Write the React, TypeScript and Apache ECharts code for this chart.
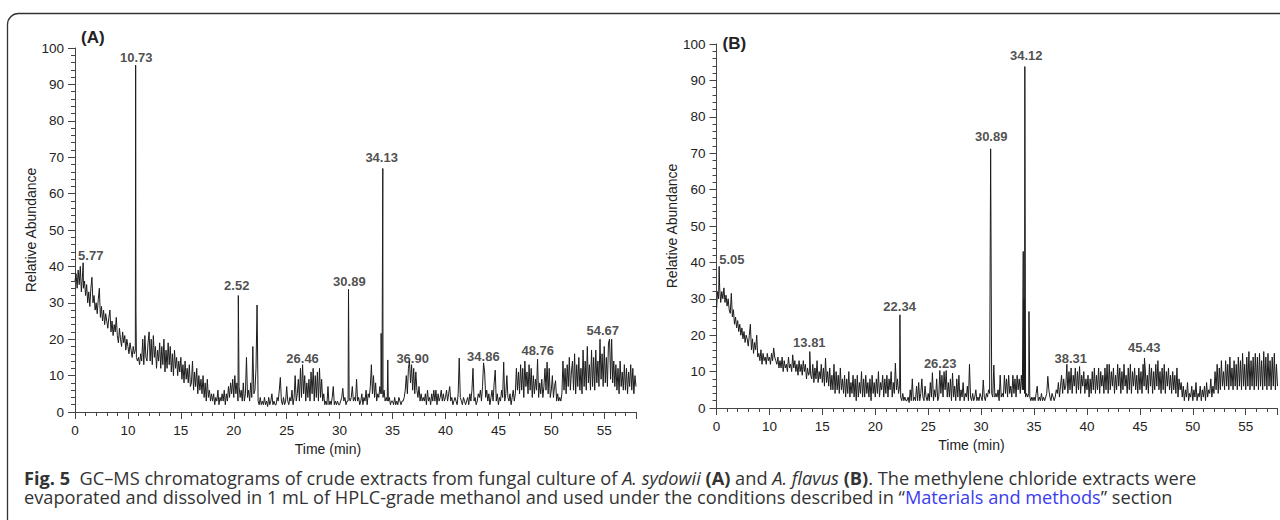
import React, { useEffect, useRef } from 'react';
import * as echarts from 'echarts';

// sampling grid of the traces (minutes)
const T0 = 5;
const DT = 0.1;

// Chart (A): relative abundance sampled every 0.1 min from 5.0 to 58.0
const traceA: number[] = [
  36, 38, 34, 39, 35, 40, 33, 37, 34, 36,
  32, 35, 30, 33, 29, 34, 37, 30, 32, 28,
  30, 27, 31, 34, 26, 29, 25, 28, 24, 27,
  25, 23, 26, 28, 22, 25, 21, 24, 22, 26,
  21, 19, 23, 20, 18, 22, 19, 21, 17, 20,
  18, 16, 19, 17, 15, 18, 16, 17, 15, 14,
  15, 13, 16, 14, 20, 13, 21, 15, 14, 19,
  22, 14, 20, 13, 21, 15, 18, 12, 17, 14,
  19, 12, 18, 13, 20, 11, 17, 12, 19, 13,
  18, 11, 16, 10, 17, 12, 15, 10, 14, 11,
  15, 9, 13, 8, 14, 9, 12, 8, 13, 7,
  8, 14, 6, 11, 7, 12, 5, 10, 6, 9,
  5, 10, 4, 8, 3, 9, 4, 6, 3, 5,
  3, 5, 2, 4, 3, 6, 2, 4, 3, 5,
  3, 6, 2, 5, 3, 7, 4, 8, 5, 9,
  4, 10, 5, 8, 3, 7, 4, 6, 3, 8,
  3, 5, 15, 4, 6, 3, 8, 4, 18, 5,
  6, 12, 4, 3, 2, 4, 2, 3, 2, 4,
  2, 3, 1.5, 4, 2, 3, 5, 2, 3, 2,
  2, 4, 3, 6, 9.5, 3, 2, 4, 2, 3,
  7, 3, 2, 4, 3, 6, 2, 4, 10, 3,
  5, 9, 3, 12, 4, 13, 5, 10, 3, 8,
  4, 9, 3, 11, 5, 12, 3, 10, 4, 11,
  3, 12, 4, 9, 3, 5, 2, 3, 2, 7,
  2, 3, 2, 4, 7, 2, 3, 2, 3, 2,
  2, 3, 4, 6.5, 3, 4, 2, 3, 3, 4,
  3, 4, 7, 3, 4, 3, 9, 3, 4, 2,
  3, 5, 2, 4, 3, 6, 2, 5, 4, 7,
  13, 5, 10, 4, 8, 3, 5, 4, 7, 5,
  5, 4, 6, 3, 4, 3, 3, 4, 2, 3,
  3, 2, 4, 2, 3, 2, 4, 3, 2, 3,
  3, 4, 6, 10, 5, 12, 14, 8, 13, 6,
  12, 5, 11, 6, 4, 7, 3, 5, 3, 4,
  3, 5, 2, 6, 3, 4, 2, 5, 3, 6,
  3, 6, 2, 5, 3, 4, 6, 3, 5, 3,
  4, 6, 3, 5, 7, 3, 4, 2, 3, 4,
  3, 2, 5, 14.8, 4, 3, 2, 4, 3, 2,
  3, 4, 2, 5, 3, 6, 12, 3, 4, 2,
  3, 5, 4, 6, 3, 7, 13.5, 11, 4, 6,
  3, 5, 2, 4, 6, 3, 8, 11.5, 3, 5,
  2, 4, 3, 6, 4, 13.7, 3, 5, 10, 4,
  3, 5, 2, 4, 6, 3, 5, 12, 6, 11,
  5, 13, 6, 12, 4, 14, 7, 11, 5, 13,
  6, 12, 4, 10, 5, 9, 6, 14.5, 4, 8,
  5, 9, 4, 7, 12, 6, 13.7, 5, 12, 4,
  6, 10, 4, 7, 8.6, 3, 5, 3, 4, 3,
  5, 14, 6, 12, 5, 13, 7, 15, 6, 11,
  14, 6, 16, 5, 13, 7, 15, 6, 12, 5,
  17, 7, 14, 6, 18, 8, 13, 6, 17, 7,
  15, 6, 17, 8, 14, 7, 20, 9, 16, 7,
  18, 8, 15, 7, 19, 20, 9, 20, 8, 14,
  7, 13, 6, 12, 5, 14, 7, 11, 6, 13,
  6, 12, 5, 11, 7, 13, 6, 12, 5, 10,
  7,
];

// Chart (B): relative abundance sampled every 0.1 min from 5.0 to 58.0
const traceB: number[] = [
  27, 32, 30, 33, 29, 32, 30, 33, 29, 31,
  28, 30, 27, 26, 31.5, 25, 27, 23, 25, 22,
  24, 21, 23, 20, 22, 19, 21, 18, 20, 19,
  17, 20, 23, 16, 19, 15, 18, 16, 20, 14,
  15, 13, 16, 12, 15, 13, 14, 12, 15, 13,
  14, 12, 15, 13, 16.5, 14, 13, 12, 14, 11,
  13, 11, 14, 10, 13, 11, 12, 10, 14, 11,
  12, 10, 14.6, 11, 13, 10, 12, 9, 13, 10,
  12, 9, 13, 10, 12, 8, 11, 9, 10, 9,
  8, 12, 7, 11, 8, 13, 7, 10, 8, 12,
  7, 11, 6, 13.7, 7, 10, 6, 11, 5, 9,
  5, 12, 4, 10, 5, 9, 4, 11, 5, 8,
  4, 9, 3, 8, 4, 10, 3, 7, 4, 9,
  3, 8, 2, 9, 3, 7, 4, 10, 3, 8,
  3, 9, 4, 7, 3, 8, 2, 9, 4, 7,
  3, 8, 4, 10, 3, 7, 5, 9, 3, 8,
  4, 9, 3, 8, 5, 10, 3, 7, 4, 12.3,
  5, 8, 4, 6, 3, 2, 4, 2, 3, 2,
  2, 3, 1.5, 5, 2, 8, 2, 3, 2, 6,
  2, 7, 2, 4, 8, 3, 2, 6, 3, 2,
  4, 2, 7, 3, 9.7, 2, 5, 3, 8, 2,
  3, 10.3, 4, 9, 3, 10, 5, 10.3, 3, 7,
  3, 8, 2, 9.6, 3, 6, 2, 8, 3, 9,
  2, 5, 3, 7, 2, 4, 3, 6, 2, 12,
  3, 2, 4, 2, 3, 5, 2, 3, 2, 4,
  3, 2, 7.7, 3, 2, 4, 3, 5, 4, 3,
  4, 3, 11.8, 3, 4, 3, 5, 2, 9, 3,
  4, 3, 9, 4, 8, 3, 9, 4, 6, 3,
  9, 4, 8, 3, 9, 5, 8, 4, 9, 5,
  5, 4, 3, 4, 3, 4, 3, 2, 3, 2,
  3, 2, 4, 6, 2, 3, 2, 4, 2, 3,
  2, 3, 4, 8.7, 5, 3, 2, 4, 3, 2,
  3, 5, 4, 7, 3, 6, 9, 4, 8, 5,
  6, 12, 4, 10, 5, 11, 4, 9, 6, 11,
  4, 10, 5, 11.4, 4, 9, 6, 10, 4, 8,
  5, 9, 3, 8, 4, 10, 5, 11, 4, 9,
  5, 11, 4, 10, 6, 9, 4, 11, 5, 12,
  4, 12, 5, 10, 6, 11, 4, 9, 5, 12,
  6, 11, 4, 10, 5, 12, 6, 9, 4, 11,
  5, 12, 4, 10, 6, 11, 5, 9, 4, 11,
  5, 10, 4, 12, 6, 11, 5, 9, 4, 12,
  6, 11, 4, 10, 5, 12, 6, 13, 5, 10,
  4, 11, 5, 12, 4, 10, 6, 11, 5, 9,
  4, 10, 5, 9, 4, 11, 3, 8, 5, 7,
  3, 6, 2, 5, 3, 7, 2, 4, 3, 6,
  2, 5, 3, 7, 2, 4, 3, 6, 2, 5,
  3, 6, 2, 7, 3, 5, 4, 8, 3, 6,
  4, 10, 5, 12, 4, 11, 5, 13, 6, 10,
  5, 13, 6, 12, 5, 14, 6, 11, 5, 13,
  6, 12, 5, 14, 6, 13, 5, 15, 6, 12,
  5, 14, 6, 15.5, 5, 13, 6, 14, 5, 15,
  6, 14, 5, 15, 6, 13, 5, 15.5, 6, 14,
  5, 15, 6, 13, 5, 14, 6, 15, 5, 12,
  6,
];

// sharp peaks [time, abundance]
const peaksA: [number, number][] = [
  [5.77, 41], [10.73, 95.3], [10.76, 28], [20.43, 32], [22.2, 29.4],
  [30.84, 33.7], [33.92, 21.6], [33.98, 8], [34.08, 66.9], [34.55, 14.3],
];
const peaksB: [number, number][] = [
  [5.25, 38.9], [13.81, 15.5], [22.33, 25.6], [30.9, 71.2],
  [33.98, 43], [34.05, 30], [34.13, 93.8], [34.52, 26.5], [45.43, 13.7],
];

// peak annotations [time, abundance, text]
const labelsA: [number, number, string][] = [
  [6.49, 42.9, '5.77'], [10.79, 97.4, '10.73'], [20.28, 34.75, '2.52'],
  [26.5, 14.6, '26.46'], [30.92, 35.9, '30.89'], [33.97, 69.8, '34.13'],
  [36.9, 14.6, '36.90'], [43.58, 15.3, '34.86'], [48.71, 16.9, '48.76'],
  [54.86, 22.4, '54.67'],
];
const labelsB: [number, number, string][] = [
  [6.45, 40.9, '5.05'], [13.77, 17.9, '13.81'], [22.3, 27.9, '22.34'],
  [26.13, 12.2, '26.23'], [30.95, 74.5, '30.89'], [34.26, 96.9, '34.12'],
  [38.47, 13.6, '38.31'], [45.41, 16.7, '45.43'],
];

const X_MIN = 5;
const X_MAX = 58;
const X_STEP = 5;
const Y_MIN = 0;
const Y_MAX = 100;
const Y_STEP = 10;

const FONT = '"Liberation Sans", Arial, Helvetica, sans-serif';
const CAP_FONT = '"Open Sans", "Noto Sans", sans-serif';
const INK = '#1c1c1c';
const AXIS = '#444';

function buildSeries(trace: number[], peaks: [number, number][]): [number, number][] {
  const pts: [number, number][] = [];
  trace.forEach((v, i) => {
    const t = Math.round((T0 + i * DT) * 100) / 100;
    if (peaks.some((p) => Math.abs(p[0] - t) < 0.005)) return;
    pts.push([t, v]);
  });
  peaks.forEach((p) => pts.push([p[0], p[1]]));
  pts.sort((a, b) => a[0] - b[0]);
  return pts;
}

function xAxisCfg(gridIndex: number, namePad: number) {
  return {
    type: 'value',
    gridIndex,
    min: X_MIN,
    max: X_MAX,
    interval: X_STEP,
    name: 'Time (min)',
    nameLocation: 'middle',
    nameGap: 29,
    nameTextStyle: { fontFamily: FONT, fontSize: 14, color: '#222', padding: [0, namePad, 0, 0] },
    axisLine: { show: true, onZero: false, lineStyle: { color: AXIS, width: 1 } },
    axisTick: { show: true, length: 7, lineStyle: { color: AXIS, width: 1 } },
    minorTick: { show: true, splitNumber: 5, length: 4, lineStyle: { color: AXIS, width: 1 } },
    axisLabel: {
      fontFamily: FONT,
      fontSize: 13.5,
      color: '#222',
      margin: 11,
      showMaxLabel: false,
      formatter: (v: number) => (v === X_MIN ? '0' : String(v)),
    },
    splitLine: { show: false },
  };
}

function yAxisCfg(gridIndex: number) {
  return {
    type: 'value',
    gridIndex,
    min: Y_MIN,
    max: Y_MAX,
    interval: Y_STEP,
    name: 'Relative Abundance',
    nameLocation: 'middle',
    nameGap: 37,
    nameRotate: 90,
    nameTextStyle: { fontFamily: FONT, fontSize: 14, color: '#222' },
    axisLine: { show: true, lineStyle: { color: AXIS, width: 1 } },
    axisTick: { show: true, length: 7, lineStyle: { color: AXIS, width: 1 } },
    minorTick: { show: true, splitNumber: 5, length: 4, lineStyle: { color: AXIS, width: 1 } },
    axisLabel: { fontFamily: FONT, fontSize: 13.5, color: '#222', margin: 11 },
    splitLine: { show: false },
  };
}

function labelSeries(idx: number, labels: [number, number, string][]) {
  return {
    type: 'scatter',
    xAxisIndex: idx,
    yAxisIndex: idx,
    silent: true,
    symbolSize: 1,
    itemStyle: { color: 'rgba(0,0,0,0)' },
    data: labels.map((l) => ({ value: [l[0], l[1]], name: l[2] })),
    label: {
      show: true,
      position: 'inside',
      formatter: (p: any) => p.name,
      fontFamily: FONT,
      fontSize: 13,
      fontWeight: 'bold',
      color: '#222',
    },
    z: 5,
  };
}

function traceSeries(idx: number, data: [number, number][]) {
  return {
    type: 'line',
    xAxisIndex: idx,
    yAxisIndex: idx,
    data,
    showSymbol: false,
    symbol: 'none',
    silent: true,
    lineStyle: { color: INK, width: 1 },
    z: 3,
  };
}

export default function App() {
  const ref = useRef<HTMLDivElement>(null);

  useEffect(() => {
    if (!ref.current) return;
    const chart = echarts.init(ref.current, undefined, { renderer: 'svg' });
    const capStyle = { fontFamily: CAP_FONT, fontSize: 18.2, lineHeight: 18, fill: '#333' };
    chart.setOption({
      animation: false,
      backgroundColor: '#fff',
      grid: [
        { left: 75, top: 48, width: 561, height: 364 },
        { left: 716.5, top: 44, width: 561, height: 364 },
      ],
      xAxis: [xAxisCfg(0, 55), xAxisCfg(1, 51)],
      yAxis: [yAxisCfg(0), yAxisCfg(1)],
      series: [
        traceSeries(0, buildSeries(traceA, peaksA)),
        traceSeries(1, buildSeries(traceB, peaksB)),
        labelSeries(0, labelsA),
        labelSeries(1, labelsB),
      ],
      graphic: [
        {
          type: 'rect',
          silent: true,
          shape: { x: 7.5, y: 13.5, width: 1300, height: 540, r: 11 },
          style: { fill: 'none', stroke: '#333', lineWidth: 1.3 },
        },
        {
          type: 'text',
          x: 81,
          y: 37.5,
          style: {
            text: '(A)',
            fontFamily: FONT,
            fontSize: 17,
            fontWeight: 'bold',
            fill: '#222',
            align: 'left',
            verticalAlign: 'middle',
          },
        },
        {
          type: 'text',
          x: 722.5,
          y: 43.7,
          style: {
            text: '(B)',
            fontFamily: FONT,
            fontSize: 17,
            fontWeight: 'bold',
            fill: '#222',
            align: 'left',
            verticalAlign: 'middle',
          },
        },
        {
          type: 'text',
          x: 24,
          y: 477.5,
          style: {
            ...capStyle,
            align: 'left',
            verticalAlign: 'middle',
            text:
              '{b|Fig. 5}  GC–MS chromatograms of crude extracts from fungal culture of {i|A. sydowii} {b|(A)} and {i|A. flavus} {b|(B)}. The methylene chloride extracts were',
            rich: {
              b: { ...capStyle, fontWeight: 'bold' },
              i: { ...capStyle, fontStyle: 'italic' },
            },
          },
        },
        {
          type: 'text',
          x: 24,
          y: 497,
          style: {
            ...capStyle,
            align: 'left',
            verticalAlign: 'middle',
            text:
              'evaporated and dissolved in 1 mL of HPLC-grade methanol and used under the conditions described in “{l|Materials and methods}” section',
            rich: {
              l: { ...capStyle, fill: '#3b3bf0' },
            },
          },
        },
      ],
    });
    return () => chart.dispose();
  }, []);

  return (
    <div
      ref={ref}
      style={{ position: 'absolute', left: 0, top: 0, width: 1280, height: 520, background: '#fff' }}
    />
  );
}
